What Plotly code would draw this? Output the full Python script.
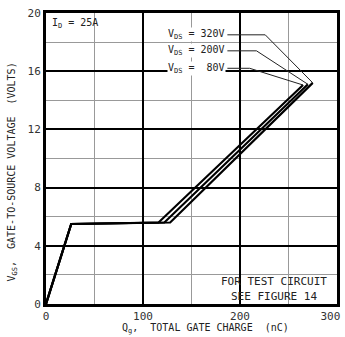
import plotly.graph_objects as go

# Data
q_80 = [0, 26, 116, 265]
q_200 = [0, 26, 122, 270]
q_320 = [0, 26, 128, 275]
v_80 = [0, 5.5, 5.6, 15.05]
v_200 = [0, 5.5, 5.6, 15.1]
v_320 = [0, 5.5, 5.6, 15.2]
labels = ["V<sub>DS</sub> = 320V", "V<sub>DS</sub> = 200V", "V<sub>DS</sub> =  80V"]
label_y = [18.5, 17.4, 16.2]
bend_q = [226, 217, 210]
x_ticks = [0, 100, 200, 300]
x_tick_labels = ["0", "100", "200", "300"]
y_ticks = [0, 4, 8, 12, 16, 20]

FONT = "DejaVu Sans Mono"
TC = "#222"
fig = go.Figure()
for q, v in [(q_80, v_80), (q_200, v_200), (q_320, v_320)]:
    fig.add_trace(go.Scatter(x=q, y=v, mode="lines", line=dict(color="black", width=2.2),
                             showlegend=False, hoverinfo="skip"))

# white box behind test-circuit note
fig.add_shape(type="rect", x0=171, x1=300, y0=0, y1=2.2, fillcolor="white",
              line=dict(width=0), layer="below")

# leader lines
tips = [(q_320[-1], v_320[-1]), (q_200[-1], v_200[-1]), (q_80[-1], v_80[-1])]
for ly, bq, (tq, tv) in zip(label_y, bend_q, tips):
    fig.add_trace(go.Scatter(x=[187, bq, tq], y=[ly, ly, tv], mode="lines",
                             line=dict(color="#222", width=1), showlegend=False, hoverinfo="skip"))

annots = []
for lab, ly in zip(labels, label_y):
    annots.append(dict(x=186, y=ly, xref="x", yref="y", text=lab, showarrow=False,
                       xanchor="right", yanchor="middle", font=dict(family=FONT, size=10, color=TC),
                       bgcolor="white", borderpad=0))
annots.append(dict(x=4, y=19.3, xref="x", yref="y", text="I<sub>D</sub> = 25A", showarrow=False,
                   xanchor="left", yanchor="middle", font=dict(family=FONT, size=10, color=TC)))
annots.append(dict(x=235, y=1.55, xref="x", yref="y", text="FOR TEST CIRCUIT", showarrow=False,
                   xanchor="center", yanchor="middle", font=dict(family=FONT, size=11, color=TC)))
annots.append(dict(x=235, y=0.55, xref="x", yref="y", text="SEE FIGURE 14", showarrow=False,
                   xanchor="center", yanchor="middle", font=dict(family=FONT, size=11, color=TC)))
annots.append(dict(x=0.5, y=0, xref="paper", yref="paper", yshift=-16, xshift=14,
                   text="Q<sub>g</sub>,  TOTAL GATE CHARGE  (nC)",
                   showarrow=False, xanchor="center", yanchor="top", font=dict(family=FONT, size=10, color=TC)))
annots.append(dict(x=0, y=0.5, xref="paper", yref="paper", xshift=-34, yshift=-14,
                   text="V<sub>GS</sub>,  GATE-TO-SOURCE VOLTAGE  (VOLTS)",
                   showarrow=False, xanchor="center", yanchor="middle", textangle=-90,
                   font=dict(family=FONT, size=10, color=TC)))

tick_text = x_tick_labels[:-1] + [x_tick_labels[-1] + "\u00a0\u00a0"]

fig.update_layout(
    width=345, height=337, margin=dict(l=46, r=8, t=13, b=33),
    plot_bgcolor="white", paper_bgcolor="white", annotations=annots,
    xaxis=dict(range=[0, 300], tickvals=x_ticks, ticktext=tick_text, showgrid=True,
               gridcolor="black", gridwidth=2,
               minor=dict(dtick=50, showgrid=True, gridcolor="#999", gridwidth=1),
               showline=True, linecolor="black", linewidth=3, mirror=True, zeroline=False,
               ticks="", automargin=False, ticklabeloverflow="allow",
               tickfont=dict(family=FONT, size=11, color="#333")),
    yaxis=dict(range=[0, 20], tickvals=y_ticks, showgrid=True, gridcolor="black", gridwidth=2,
               minor=dict(dtick=2, showgrid=True, gridcolor="#999", gridwidth=1),
               showline=True, linecolor="black", linewidth=3, mirror=True, zeroline=False,
               ticks="", automargin=False, ticklabeloverflow="allow",
               tickfont=dict(family=FONT, size=11, color="#333")),
)
fig.write_html("out.html")
